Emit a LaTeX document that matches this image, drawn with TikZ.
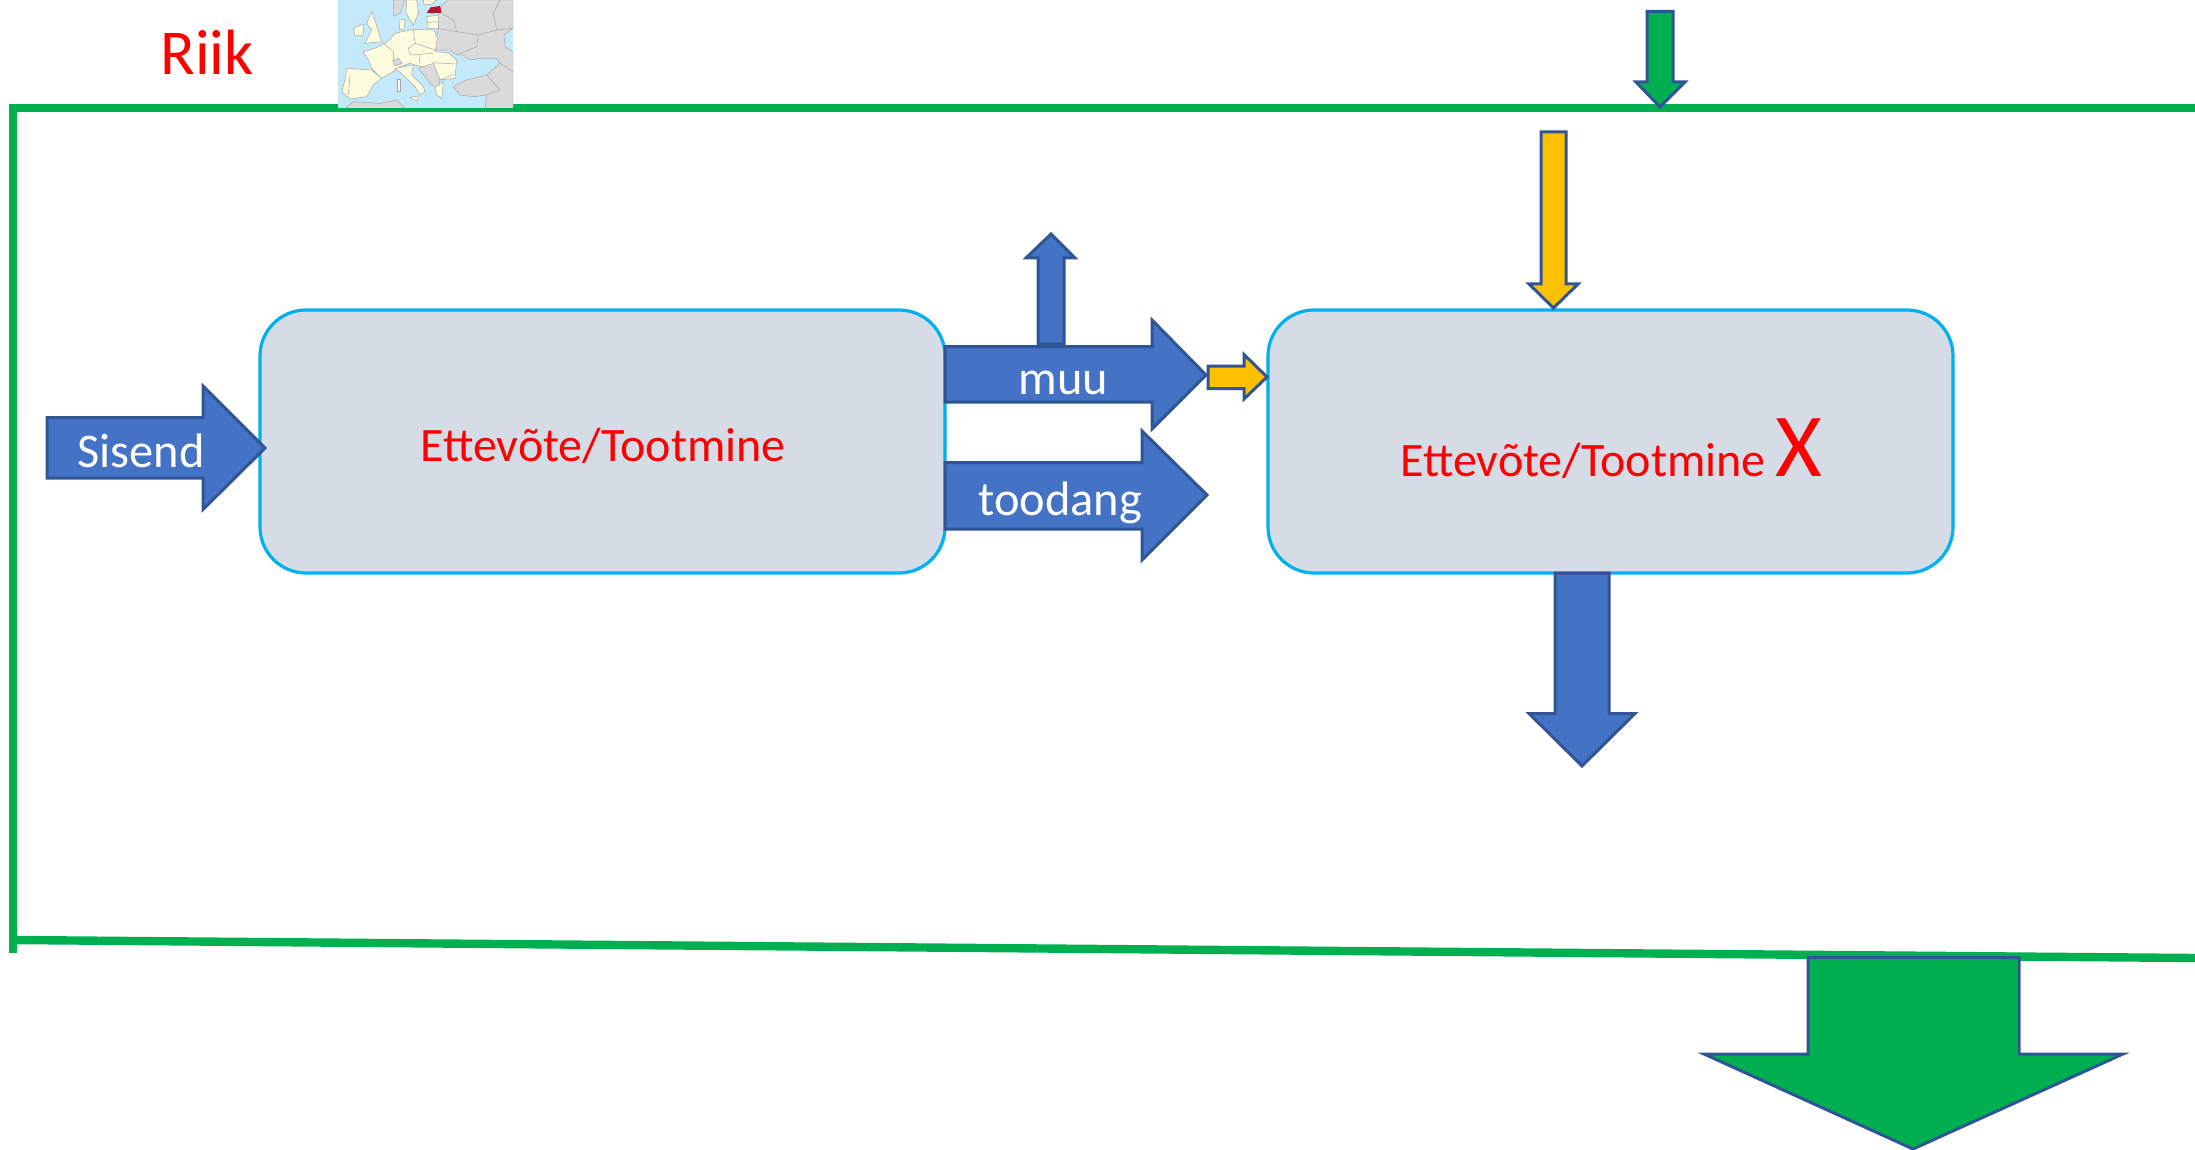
\documentclass[tikz,border=0pt]{standalone}
\usepackage{fontspec}
\setmainfont{Carlito}
\definecolor{arrowblue}{HTML}{4472C4}
\definecolor{arrowedge}{HTML}{2F5597}
\definecolor{arrowgold}{HTML}{FFC000}
\definecolor{framegreen}{HTML}{00B050}
\definecolor{boxfill}{HTML}{D6DCE5}
\definecolor{boxedge}{HTML}{00B0F0}
\definecolor{mapsea}{HTML}{C4E9FB}
\definecolor{mapland}{HTML}{DADADA}
\definecolor{mapeu}{HTML}{FCFBDD}
\definecolor{mapline}{HTML}{A6A6A6}
\definecolor{mapee}{HTML}{B4162E}
\tikzset{
  blockblue/.style={fill=arrowblue,draw=arrowedge,line width=1.5pt,miter limit=10},
  blockgold/.style={fill=arrowgold,draw=arrowedge,line width=1.5pt,miter limit=10},
  blockgreen/.style={fill=framegreen,draw=arrowedge,line width=1.5pt,miter limit=10},
  frameline/.style={draw=framegreen,line width=4.2pt},
  procbox/.style={rectangle,fill=boxfill,draw=boxedge,line width=1.6pt,rounded corners=23pt,
    minimum width=342.5pt,minimum height=131.5pt,inner sep=0pt,outer sep=0pt},
  whitetext/.style={text=white,font=\fontsize{24.2}{29}\selectfont,inner sep=0pt,anchor=base west},
  redtext/.style={text=red,inner sep=0pt,anchor=base west},
  grayland/.style={fill=mapland,draw=mapline,line width=0.25pt},
  euland/.style={fill=mapeu,draw=mapline,line width=0.25pt},
  mapborder/.style={draw=mapline,line width=0.25pt},
}
\begin{document}
\begin{tikzpicture}[x=0.5pt,y=-0.5pt]
\useasboundingbox (0,0) rectangle (2195,1150);
% country frame
\draw[frameline] (2195,108) -- (13,108) -- (13,953);
\draw[frameline] (13,940) -- (2195,958);
% map
\begin{scope}[shift={(300,0)},x=0.16667pt,y=-0.16667pt]
\clip (114,0) rectangle (639,323);
\fill[mapsea] (114,0) rectangle (639,323);
\path[grayland] (415,45) -- (425,15) -- (445,0) -- (639,0) -- (639,85) -- (612,105) -- (615,140) -- (639,155) -- (639,330) -- (555,330) -- (560,285) -- (520,290) -- (480,285) -- (460,260) -- (500,240) -- (560,225) -- (600,190) -- (590,175) -- (540,175) -- (510,180) -- (490,165) -- (470,165) -- (450,150) -- (405,150) -- (410,110) -- (415,85) -- (412,60) -- cycle;
\path[grayland] (280,0) -- (315,0) -- (300,40) -- (282,48) -- cycle;
\path[grayland] (130,330) -- (160,305) -- (240,310) -- (290,300) -- (320,330) -- cycle;
\path[euland] (190,155) -- (225,145) -- (262,125) -- (285,100) -- (340,88) -- (402,90) -- (412,115) -- (405,155) -- (445,158) -- (470,180) -- (465,235) -- (420,240) -- (400,200) -- (365,200) -- (345,195) -- (330,190) -- (300,200) -- (280,215) -- (245,235) -- (215,205) -- (205,180) -- cycle;
\path[euland] (140,205) -- (215,210) -- (245,235) -- (220,255) -- (200,290) -- (150,297) -- (125,275) -- (135,240) -- cycle;
\path[euland] (285,205) -- (340,195) -- (335,225) -- (370,260) -- (375,275) -- (360,285) -- (345,260) -- (310,225) -- cycle;
\path[grayland] (278,183) -- (295,175) -- (307,190) -- (285,197) -- cycle;
\path[grayland] (355,205) -- (400,190) -- (420,240) -- (415,265) -- (395,255) -- cycle;
\path[euland] (405,262) -- (430,245) -- (425,295) -- (410,285) -- cycle;
\path[euland] (200,70) -- (215,35) -- (225,60) -- (245,125) -- (195,130) -- (215,90) -- cycle;
\path[euland] (160,85) -- (190,72) -- (190,105) -- (165,108) -- cycle;
\path[euland] (300,60) -- (315,58) -- (312,88) -- (298,88) -- cycle;
\path[euland] (320,0) -- (350,0) -- (356,40) -- (340,75) -- (318,40) -- cycle;
\path[euland] (370,0) -- (410,0) -- (395,13) -- (372,14) -- cycle;
\path[euland] (380,50) -- (415,45) -- (415,85) -- (385,85) -- cycle;
\path[euland] (292,238) -- (300,238) -- (300,275) -- (292,275) -- cycle;
\path[euland] (330,292) -- (355,288) -- (352,303) -- cycle;
% country borders
\path[mapborder] (250,130) -- (280,155) -- (280,180);
\path[mapborder] (340,90) -- (345,130) -- (405,150);
\path[mapborder] (325,145) -- (345,130);
\path[mapborder] (325,145) -- (330,165) -- (400,160);
\path[mapborder] (360,165) -- (358,190);
\path[mapborder] (400,188) -- (465,192);
\path[mapborder] (420,240) -- (462,222);
\path[mapborder] (380,68) -- (415,65);
\path[mapborder] (150,225) -- (145,285);
\path[mapborder] (415,85) -- (470,95) -- (535,105) -- (530,140) -- (470,165);
\path[mapborder] (470,95) -- (460,60) -- (425,40);
\path[mapborder] (535,105) -- (590,90) -- (580,40) -- (600,0);
\path[mapborder] (590,90) -- (639,85);
\path[mapborder] (560,225) -- (600,270) -- (560,285);
\path[mapborder] (600,190) -- (639,215);
\fill[mapee] (380,38) -- (392,22) -- (420,18) -- (425,38) -- (395,40) -- cycle;
\end{scope}
% boxes
\node[procbox] (leftbox) at (602.5,441.5) {};
\node[procbox] (rightbox) at (1610.5,441.5) {};
% arrows
\draw[blockblue] (47,417.5) -- (203,417.5) -- (203,386) -- (265,448) -- (203,509.5) -- (203,478) -- (47,478) -- cycle;
\draw[blockblue] (1038,344) -- (1038,258) -- (1026,258) -- (1051,234) -- (1075,258) -- (1064,258) -- (1064,344) -- cycle;
\draw[blockblue] (945,346.5) -- (1152,346.5) -- (1152,320) -- (1206,375) -- (1152,429) -- (1152,402) -- (945,402) -- cycle;
\draw[blockblue] (945,462.5) -- (1142,462.5) -- (1142,431) -- (1207,495) -- (1142,560) -- (1142,529) -- (945,529) -- cycle;
\draw[blockgold] (1208,366) -- (1244,366) -- (1244,354.5) -- (1267,377) -- (1244,399) -- (1244,388.5) -- (1208,388.5) -- cycle;
\draw[blockgold] (1541,132) -- (1566,132) -- (1566,284) -- (1578,284) -- (1553.5,308) -- (1529,284) -- (1541,284) -- cycle;
\draw[blockgreen] (1647,11.5) -- (1673,11.5) -- (1673,82) -- (1685,82) -- (1660,107) -- (1636,82) -- (1647,82) -- cycle;
\draw[blockblue] (1555,573) -- (1609,573) -- (1609,713.5) -- (1635,713.5) -- (1582,766) -- (1529,713.5) -- (1555,713.5) -- cycle;
\draw[blockgreen] (1808,957.5) -- (2019,957.5) -- (2019,1054) -- (2123,1054) -- (1913,1149) -- (1704,1054) -- (1808,1054) -- cycle;
% labels
\node[redtext,font=\fontsize{32}{38}\selectfont] (riik) at (160,75) {Riik};
\node[redtext,font=\fontsize{24}{29}\selectfont] (lefttext) at (420,461) {Ettevõte/Tootmine};
\node[redtext,font=\fontsize{24}{29}\selectfont] (righttext) at (1400,476) {Ettevõte/Tootmine};
\node[redtext,font=\fontsize{45}{54}\selectfont] (xmark) at (1775,476) {X};
\node[whitetext] (sisend) at (77,467) {Sisend};
\node[whitetext] (muu) at (1018,394) {muu};
\node[whitetext] (toodang) at (978,515) {toodang};
\end{tikzpicture}
\end{document}
